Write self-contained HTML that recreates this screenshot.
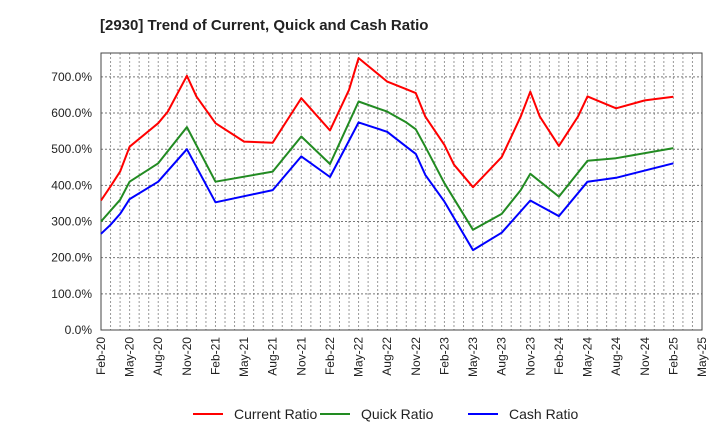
<!DOCTYPE html>
<html><head><meta charset="utf-8">
<style>
body{margin:0;background:#fff;}
svg{display:block;font-family:"Liberation Sans",sans-serif;}
</style></head>
<body>
<svg id="chart" width="720" height="440">
<text x="100" y="30" font-size="15" font-weight="bold" fill="#222">[2930]  Trend of Current, Quick and Cash Ratio</text>
</svg>
<script>
const xLabels=["Feb-20","May-20","Aug-20","Nov-20","Feb-21","May-21","Aug-21","Nov-21","Feb-22","May-22","Aug-22","Nov-22","Feb-23","May-23","Aug-23","Nov-23","Feb-24","May-24","Aug-24","Nov-24","Feb-25","May-25"];
const yTicks=[0,100,200,300,400,500,600,700];
const currentMonths=[0,1,2,3,6,7,9,10,12,15,18,20,21,24,26,27,30,32,33,34,36,37,39,42,44,45,46,48,50,51,54,57,60];
const currentValues=[358,397,438,507,572,604,703,646,572,521,518,600,641,552,664,752,687,666,655,590,512,457,395,478,590,659,590,509,590,646,613,635,645];
const quickMonths=[0,2,3,6,9,12,18,21,24,27,30,32,33,34,36,39,42,44,45,48,51,54,60];
const quickValues=[300,360,410,461,561,410,438,535,459,632,604,574,555,507,406,277,321,387,432,369,468,475,503];
const cashMonths=[0,1,2,3,6,9,12,18,21,24,27,30,32,33,34,36,39,42,45,48,51,54,60];
const cashValues=[266,291,321,362,410,500,353,387,480,423,574,548,507,487,429,355,221,269,358,315,410,421,461];

const svg=document.getElementById('chart');
const NS='http://www.w3.org/2000/svg';
const L=101,R=702,T=53,B=330,totalMonths=63,yMax=766;
const x=m=>L+(R-L)*m/totalMonths;
const y=v=>B-(B-T)*v/yMax;
function mk(tag,attrs){const e=document.createElementNS(NS,tag);for(const k in attrs)e.setAttribute(k,attrs[k]);svg.appendChild(e);return e;}

// vertical monthly grid
for(let m=1;m<totalMonths;m++){
  const g=mk('line',{x1:x(m),x2:x(m),y1:T,y2:B,stroke:'#999','stroke-width':1,'stroke-dasharray':'2,2'});
  
  
}
yTicks.forEach(v=>{
  if(v>0){
    const g=mk('line',{x1:L,x2:R,y1:y(v),y2:y(v),stroke:'#777','stroke-width':1,'stroke-dasharray':'2,2'});
    
    
  }
  const t=mk('text',{x:92,y:y(v)+4,'font-size':12,'text-anchor':'end',fill:'#222'});
  t.textContent=v.toFixed(1)+'%';
  
  
});
const frame=mk('rect',{x:L,y:T,width:R-L,height:B-T,fill:'none',stroke:'#444','stroke-width':1});



xLabels.forEach((lab,i)=>{
  const xx=x(i*3);
  const t=mk('text',{x:xx+4,y:337,'font-size':12,'text-anchor':'end',fill:'#222',transform:`rotate(-90 ${xx+4} 337)`});
  t.textContent=lab;
  
  
});

function series(months,vals,color,name){
  const pts=months.map((m,i)=>x(m).toFixed(1)+','+y(vals[i]).toFixed(1)).join(' ');
  const p=mk('polyline',{points:pts,fill:'none',stroke:color,'stroke-width':2,'stroke-linejoin':'round'});
  
  
}
series(currentMonths,currentValues,'#ff0000','current-ratio-line');
series(quickMonths,quickValues,'#228b22','quick-ratio-line');
series(cashMonths,cashValues,'#0000ff','cash-ratio-line');

const legend=[["Current Ratio","#ff0000",193],["Quick Ratio","#228b22",320],["Cash Ratio","#0000ff",468]];
legend.forEach(([lab,c,lx])=>{
  const l=mk('line',{x1:lx,x2:lx+30,y1:414,y2:414,stroke:c,'stroke-width':2});
  
  
  const t=mk('text',{x:lx+41,y:419,'font-size':14,fill:'#222'});
  t.textContent=lab;
  
  
});
</script>
</body></html>
